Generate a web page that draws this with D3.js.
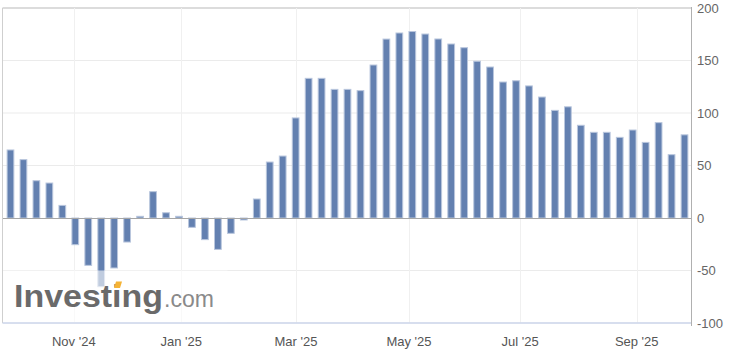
<!DOCTYPE html>
<html><head><meta charset="utf-8">
<script src="https://cdn.jsdelivr.net/npm/d3@7"></script>
<style>body{margin:0;background:#fff}svg{display:block}</style>
</head><body><svg id="c" width="734" height="361"></svg>
<script>
// Weekly release dates (ordinal axis: bars equally spaced)
const dates = ["2024-09-27","2024-10-04","2024-10-11","2024-10-18","2024-10-25","2024-11-01","2024-11-08","2024-11-15","2024-11-22","2024-12-02","2024-12-06","2024-12-13","2024-12-20","2024-12-30","2025-01-06","2025-01-10","2025-01-17","2025-01-24","2025-01-31","2025-02-07","2025-02-14","2025-02-21","2025-02-28","2025-03-07","2025-03-14","2025-03-21","2025-03-28","2025-04-04","2025-04-11","2025-04-18","2025-04-25","2025-05-02","2025-05-09","2025-05-16","2025-05-23","2025-05-30","2025-06-06","2025-06-13","2025-06-20","2025-06-27","2025-07-07","2025-07-11","2025-07-18","2025-07-25","2025-08-01","2025-08-08","2025-08-15","2025-08-22","2025-08-29","2025-09-05","2025-09-12","2025-09-19","2025-09-26"];
const values = [64.8,55.6,35.5,33.3,12.0,-25.4,-45.1,-65.4,-47.6,-22.9,1.6,25.1,5.0,1.6,-8.9,-20.6,-29.9,-14.6,-1.9,18.1,53.3,59.0,95.3,133.0,133.0,122.5,122.5,121.3,145.7,170.4,176.2,177.6,175.2,170.5,165.7,162.2,149.3,143.8,129.5,130.7,125.8,115.2,102.5,105.9,88.3,81.6,81.6,76.8,83.8,72.0,90.8,60.3,79.2];
const tickDates = ["2024-11-01","2025-01-01","2025-03-01","2025-05-01","2025-07-01","2025-09-01"];
const tickLabels = ["Nov '24","Jan '25","Mar '25","May '25","Jul '25","Sep '25"];
const yTicks = [-100,-50,0,50,100,150,200];

const svg = d3.select("#c");
const L = 2.5, R = 691, T = 8, B = 323;
const x = d3.scaleBand().domain(d3.range(values.length)).range([4, R]);
const y = d3.scaleLinear().domain([-100, 200]).range([B, T]);
const step = x.step();
const cx = i => x(i) + x.bandwidth() / 2;

// ordinal position of a calendar date by interpolating between release times
const rel = dates.map(d => new Date(d + "T19:30:00Z").getTime());
function ordPos(dstr) {
  const t = new Date(dstr + "T00:00:00Z").getTime();
  let i = d3.bisectRight(rel, t) - 1;
  i = Math.max(0, Math.min(rel.length - 2, i));
  const f = (t - rel[i]) / (rel[i + 1] - rel[i]);
  return cx(0) + (i + f) * step;
}

// horizontal grid
svg.append("g").selectAll("line").data(yTicks.filter(v => v !== 0)).join("line")
  .attr("x1", L).attr("x2", R).attr("y1", d => y(d)).attr("y2", d => y(d))
  .attr("stroke", d => d === 200 ? "#dcdcdc" : "#ebebeb").attr("stroke-width", d => d === 200 ? 2 : 1);
// vertical grid
svg.append("g").selectAll("line").data(tickDates).join("line")
  .attr("x1", d => Math.round(ordPos(d)) + 0.5).attr("x2", d => Math.round(ordPos(d)) + 0.5)
  .attr("y1", T).attr("y2", B).attr("stroke", "#f0f0f0");

// bars
const bw = step * 0.52;
svg.append("g").selectAll("rect").data(values).join("rect")
  .attr("x", (d, i) => cx(i) - bw / 2)
  .attr("width", bw)
  .attr("y", d => y(Math.max(0, d)))
  .attr("height", d => Math.abs(y(d) - y(0)))
  .attr("fill", "#6380b0").attr("stroke", "#b9c6dd").attr("stroke-width", 1);

// zero line
svg.append("line").attr("x1", L).attr("x2", R).attr("y1", y(0) + 0.5).attr("y2", y(0) + 0.5)
  .attr("stroke", "#a6a6a6").attr("stroke-width", 1.2);

// watermark
const wm = svg.append("g");
wm.append("rect").attr("x", L).attr("y", 270.5).attr("width", 225).attr("height", B - 270.5)
  .attr("fill", "#fff").attr("opacity", 0.6);
wm.append("text").attr("x", 14).attr("y", 307).text("Investing")
  .attr("font-family", "Liberation Sans, Arial, sans-serif").attr("font-weight", "bold")
  .attr("font-size", 31).attr("fill", "#6a6a6a")
  .attr("textLength", 149).attr("lengthAdjust", "spacingAndGlyphs");
wm.append("text").attr("x", 164).attr("y", 307).text(".com")
  .attr("font-family", "Liberation Sans, Arial, sans-serif")
  .attr("font-size", 23).attr("fill", "#8a8a8a");
wm.append("path").attr("d", "M116,281.5 L122,281.5 L120,288 L114,288 Z").attr("fill", "#f5b335");

// frame
svg.append("line").attr("x1", L).attr("x2", L).attr("y1", T).attr("y2", B).attr("stroke", "#cfcfcf");
svg.append("line").attr("x1", L).attr("x2", R).attr("y1", B).attr("y2", B).attr("stroke", "#ccd6eb").attr("stroke-width", 1.5);
svg.append("line").attr("x1", R + 0.5).attr("x2", R + 0.5).attr("y1", T - 1).attr("y2", B + 3).attr("stroke", "#b0b0b0");

// y labels
svg.append("g").selectAll("text").data(yTicks).join("text")
  .attr("x", 697).attr("y", d => y(d)).attr("dy", "0.35em").text(d => d)
  .attr("font-family", "Liberation Sans, Arial, sans-serif").attr("font-size", 13).attr("fill", "#666");
// x labels
svg.append("g").selectAll("text").data(tickDates).join("text")
  .attr("x", d => ordPos(d)).attr("y", 346).attr("text-anchor", "middle").text((d, i) => tickLabels[i])
  .attr("font-family", "Liberation Sans, Arial, sans-serif").attr("font-size", 13).attr("fill", "#555");
</script></body></html>
